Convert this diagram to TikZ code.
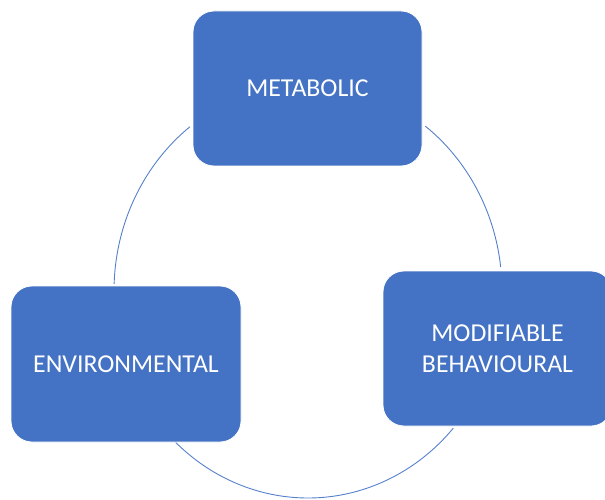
\documentclass[tikz,border=0pt]{standalone}
\usepackage{fontspec}
\setmainfont{Carlito}
\definecolor{boxblue}{HTML}{4472C4}
\definecolor{arcblue}{HTML}{5580CC}
\tikzset{
  cyclebox/.style={draw=white, line width=0.8pt, fill=boxblue, rounded corners=21pt,
    minimum width=229pt, minimum height=155pt, inner sep=0pt, text=white,
    align=center, font=\fontsize{25.8}{31.5}\selectfont},
  cyclearc/.style={draw=arcblue, line width=0.9pt}
}
\begin{document}
\begin{tikzpicture}[x=1pt,y=1pt]
\useasboundingbox (0,0) rectangle (605,499);
\clip (0,0) rectangle (605,499);
\coordinate (ctr) at (308,208);
\path (ctr) ++(127.5:194 and 207) coordinate (la);
\path (ctr) ++(52.8:194 and 207) coordinate (ra);
\path (ctr) ++(227:194 and 207) coordinate (ba);
\draw[cyclearc] (la) arc[start angle=127.5, end angle=178, x radius=194, y radius=207];
\draw[cyclearc] (ra) arc[start angle=52.8, end angle=6.7, x radius=194, y radius=207];
\draw[cyclearc] (ba) arc[start angle=227, end angle=318.5, x radius=194, y radius=207];
\node[cyclebox] (met) at (307.5,410.5) {METABOLIC};
\node[cyclebox, minimum width=230pt, minimum height=156pt] (env) at (126,135) {ENVIRONMENTAL};
\node[cyclebox] (beh) at (497.5,150.5) {MODIFIABLE\\BEHAVIOURAL};
\end{tikzpicture}
\end{document}
